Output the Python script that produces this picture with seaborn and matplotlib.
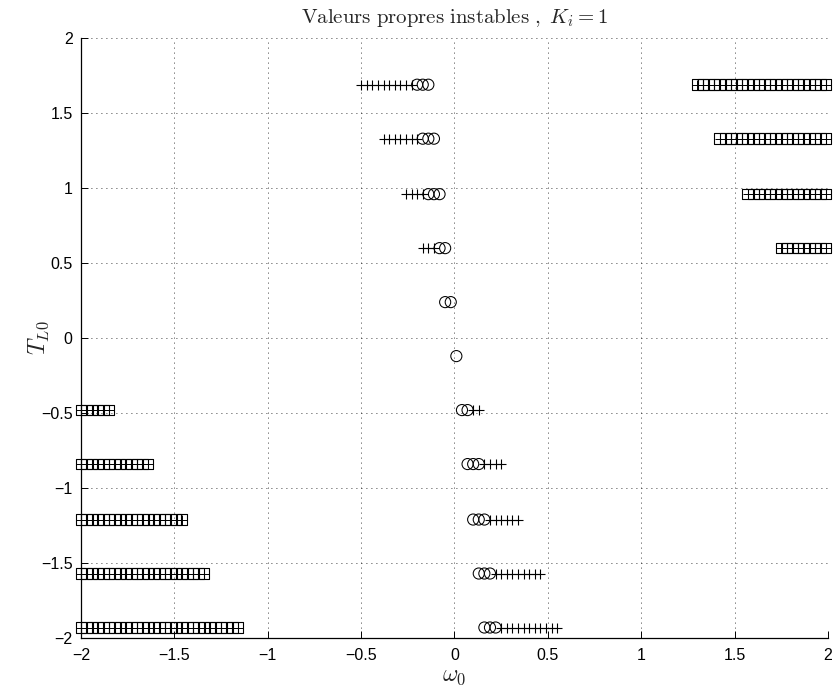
import matplotlib
matplotlib.use("Agg")
import matplotlib.pyplot as plt
import numpy as np
import pandas as pd
import seaborn as sns

# Niveaux de T_L0 (une ligne de marqueurs par niveau)
t_l0 = [1.69, 1.33, 0.96, 0.60, 0.24, -0.12, -0.48, -0.84, -1.21, -1.57, -1.93]

# Valeurs de omega_0 par niveau : carrés croisés (bords), croix et cercles (centre)
omega_carres = [
    [1.30, 1.33, 1.36, 1.39, 1.42, 1.45, 1.48, 1.51, 1.54, 1.57, 1.60, 1.63,
     1.66, 1.69, 1.72, 1.75, 1.78, 1.81, 1.84, 1.87, 1.90, 1.93, 1.96, 1.99],
    [1.42, 1.45, 1.48, 1.51, 1.54, 1.57, 1.60, 1.63, 1.66, 1.69, 1.72, 1.75,
     1.78, 1.81, 1.84, 1.87, 1.90, 1.93, 1.96, 1.99],
    [1.57, 1.60, 1.63, 1.66, 1.69, 1.72, 1.75, 1.78, 1.81, 1.84, 1.87, 1.90,
     1.93, 1.96, 1.99],
    [1.75, 1.78, 1.81, 1.84, 1.87, 1.90, 1.93, 1.96, 1.99],
    [],
    [],
    [-2.00, -1.97, -1.94, -1.91, -1.88, -1.85],
    [-2.00, -1.97, -1.94, -1.91, -1.88, -1.85, -1.82, -1.79, -1.76, -1.73,
     -1.70, -1.67, -1.64],
    [-2.00, -1.97, -1.94, -1.91, -1.88, -1.85, -1.82, -1.79, -1.76, -1.73,
     -1.70, -1.67, -1.64, -1.61, -1.58, -1.55, -1.52, -1.49, -1.46],
    [-2.00, -1.97, -1.94, -1.91, -1.88, -1.85, -1.82, -1.79, -1.76, -1.73,
     -1.70, -1.67, -1.64, -1.61, -1.58, -1.55, -1.52, -1.49, -1.46, -1.43,
     -1.40, -1.37, -1.34],
    [-2.00, -1.97, -1.94, -1.91, -1.88, -1.85, -1.82, -1.79, -1.76, -1.73,
     -1.70, -1.67, -1.64, -1.61, -1.58, -1.55, -1.52, -1.49, -1.46, -1.43,
     -1.40, -1.37, -1.34, -1.31, -1.28, -1.25, -1.22, -1.19, -1.16],
]

omega_croix = [
    [-0.50, -0.47, -0.44, -0.41, -0.38, -0.35, -0.32, -0.29, -0.26, -0.23],
    [-0.38, -0.35, -0.32, -0.29, -0.26, -0.23, -0.20],
    [-0.26, -0.23, -0.20, -0.17],
    [-0.17, -0.14, -0.11],
    [],
    [],
    [0.10, 0.13],
    [0.16, 0.19, 0.22, 0.25],
    [0.19, 0.22, 0.25, 0.28, 0.31, 0.34],
    [0.22, 0.25, 0.28, 0.31, 0.34, 0.37, 0.40, 0.43, 0.46],
    [0.25, 0.28, 0.31, 0.34, 0.37, 0.40, 0.43, 0.46, 0.49, 0.52, 0.55],
]

omega_cercles = [
    [-0.20, -0.17, -0.14],
    [-0.17, -0.14, -0.11],
    [-0.14, -0.11, -0.08],
    [-0.08, -0.05],
    [-0.05, -0.02],
    [0.01],
    [0.04, 0.07],
    [0.07, 0.10, 0.13],
    [0.10, 0.13, 0.16],
    [0.13, 0.16, 0.19],
    [0.16, 0.19, 0.22],
]

x_ticks = [-2, -1.5, -1, -0.5, 0, 0.5, 1, 1.5, 2]
y_ticks = [-2, -1.5, -1, -0.5, 0, 0.5, 1, 1.5, 2]


def to_frame(values):
    rows = [(w, t) for t, ws in zip(t_l0, values) for w in ws]
    return pd.DataFrame(rows, columns=["omega0", "TL0"])


df_carres = to_frame(omega_carres)
df_croix = to_frame(omega_croix)
df_cercles = to_frame(omega_cercles)

sns.set_style("white")
plt.rcParams["font.family"] = ["Liberation Sans", "DejaVu Sans"]
plt.rcParams["mathtext.fontset"] = "cm"

fig = plt.figure(figsize=(8.35, 6.91), dpi=100)
ax = fig.add_axes([0.097, 0.0767, 0.8946, 0.868])

# Carrés croisés : un carré et une croix superposés au même point
sns.scatterplot(data=df_carres, x="omega0", y="TL0", ax=ax, marker="s",
                s=57, facecolor="none", edgecolor="black", linewidth=0.8)
sns.scatterplot(data=df_carres, x="omega0", y="TL0", ax=ax, marker="+",
                s=57, color="black", linewidth=0.7)
sns.scatterplot(data=df_croix, x="omega0", y="TL0", ax=ax, marker="+",
                s=55, color="black", linewidth=0.8)
sns.scatterplot(data=df_cercles, x="omega0", y="TL0", ax=ax, marker="o",
                s=64, facecolor="none", edgecolor="black", linewidth=0.75)
for coll in ax.collections:
    coll.set_clip_on(False)

ax.set_xlim(-2, 2)
ax.set_ylim(-2, 2)
ax.set_xticks(x_ticks)
ax.set_yticks(y_ticks)
ax.set_xticklabels([f"{v:g}".replace("-", "\u2212") for v in x_ticks])
ax.set_yticklabels([f"{v:g}".replace("-", "\u2212") for v in y_ticks])
ax.tick_params(direction="in", length=5, width=0.7, colors="black",
               labelsize=11.5, left=True, bottom=True, top=False, right=False)
ax.tick_params(axis="x", pad=7)
ax.tick_params(axis="y", pad=6)

ax.grid(True, linestyle=(0, (1, 5)), color="black", linewidth=0.6)
for side in ("top", "right"):
    ax.spines[side].set_visible(False)
for side in ("left", "bottom"):
    ax.spines[side].set_color("black")
    ax.spines[side].set_linewidth(0.9)

ax.set_title(r"$\mathrm{Valeurs\ propres\ instables\ ,}\ K_i = 1$",
             fontsize=15, pad=11)
ax.set_xlabel(r"$\omega_0$", fontsize=17)
ax.set_ylabel(r"$T_{L0}$", fontsize=17)
ax.xaxis.set_label_coords(0.5, -0.045)
ax.yaxis.set_label_coords(-0.04, 0.5)

fig.savefig("out.png", dpi=100)
